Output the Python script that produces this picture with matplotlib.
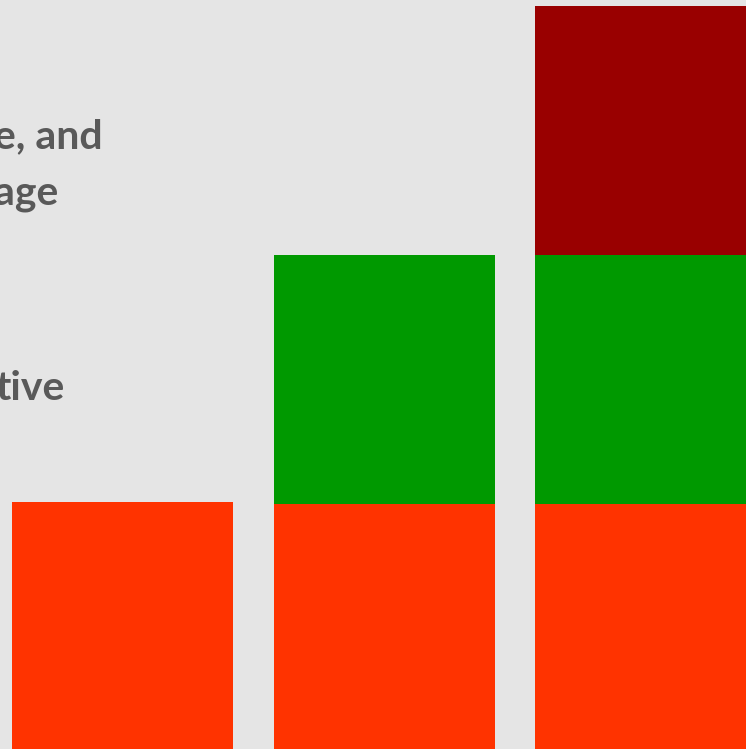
import matplotlib
matplotlib.use("Agg")
import matplotlib.pyplot as plt

categories = ["A", "B", "C"]
orange = [1.0, 0.99, 0.99]
green = [0.0, 1.01, 1.01]
red = [0.0, 0.0, 1.01]
labels = ["e, and", "age", "tive"]

fig = plt.figure(figsize=(7.46, 7.49), dpi=100, facecolor="#e5e5e5")
ax = fig.add_axes([0, 0, 1, 1])
ax.set_facecolor("#e5e5e5")

x = range(len(categories))
w = 0.845
ax.bar(x, orange, width=w, color="#ff3300")
ax.bar(x, green, width=w, bottom=orange, color="#009900")
bottom2 = [o + g for o, g in zip(orange, green)]
ax.bar(x, red, width=w, bottom=bottom2, color="#990000")

ax.set_xlim(-0.4685, 2.384)
ax.set_ylim(0, 749 / 247)
ax.axis("off")

# text fragments (right edge, baseline in pixels)
pos = [(103, 148), (58, 205), (65, 400)]
for t, (px, py) in zip(labels, pos):
    fig.text(px / 746, 1 - py / 749, t, ha="right", va="baseline",
             fontsize=29.5, fontweight="bold", color="#595959", family="Lato")

fig.savefig("out.png", dpi=100, facecolor=fig.get_facecolor())
